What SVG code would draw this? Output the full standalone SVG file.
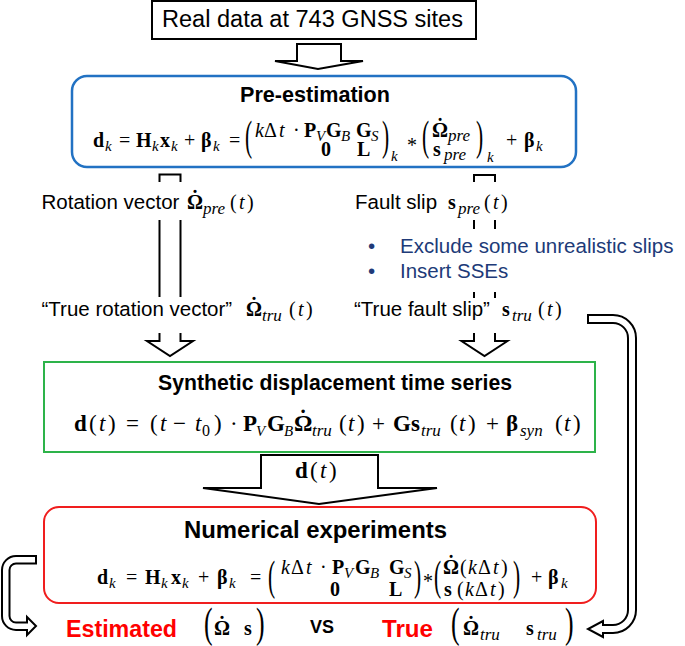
<svg xmlns="http://www.w3.org/2000/svg" width="685" height="646" viewBox="0 0 685 646">
<style>
.sans{font-family:"Liberation Sans","Noto Sans",Arial,sans-serif;fill:#000}
.lab{font-size:20.5px}
.ttl{font-weight:bold}
.m{font-family:"Liberation Serif","DejaVu Serif",serif;font-size:20px;fill:#000}
.g{font-size:23px}
.b{font-weight:bold}
.i{font-style:italic}
.s{font-style:italic;font-size:15px}
.s2{font-style:italic;font-size:17px}
.n{font-size:16px}
.big{font-family:"Liberation Serif","DejaVu Serif",serif;font-size:43px;fill:#000}
.dot{font-family:"Liberation Serif","DejaVu Serif",serif;font-weight:bold;text-anchor:middle;fill:#000}
.blk{fill:#fff;stroke:#000;stroke-width:2;stroke-linejoin:miter}
.ln{fill:none;stroke:#000;stroke-width:2}
.navy{fill:#203a78}
.red{fill:#ff0000}
</style>
<rect width="685" height="646" fill="#fff"/>

<g id="connectors">
  <polygon class="blk" points="297,44 341,44 341,61 363,61 318,69 275,61 297,61"/>
  <path class="ln" d="M159.5 182V174.5H180.5V182"/>
  <path class="ln" d="M159.5 220V297M180.5 220V297"/>
  <path class="blk" d="M159.5 333V341H147L170 356L193 341H180.5V333"/>
  <path class="ln" d="M474 182V175H495V182"/>
  <path class="ln" d="M474 220V229M495 220V229M474 292V298M495 292V298"/>
  <path class="blk" d="M474 333V341H461.5L484.5 356L507.5 341H495V333"/>
  <polygon class="blk" points="261,455 378,455 378,488 437,488 319,504 203,488 261,488"/>
  <path class="blk" stroke-width="1.8" d="M588 315H613A23 23 0 0 1 636 338V610A23 23 0 0 1 613 633H603V637L588 629L603 621V625H613A15 15 0 0 0 628 610V338A15 15 0 0 0 613 323H588Z"/>
  <path class="blk" stroke-width="1.8" d="M36 556H16A14 14 0 0 0 2 570V616A14 14 0 0 0 16 630H27V635L36 626L27 617V622.5H16A6.5 6.5 0 0 1 9.5 616V570A6.5 6.5 0 0 1 16 563.5H36Z"/>
</g>

<g id="n-data">
  <rect x="152" y="1" width="324" height="38" fill="#fff" stroke="#000" stroke-width="2"/>
  <text class="sans" x="162" y="27" font-size="23.5" textLength="301" lengthAdjust="spacingAndGlyphs">Real data at 743 GNSS sites</text>
</g>

<g id="n-pre">
  <rect x="72" y="76" width="504" height="91" rx="15" fill="#fff" stroke="#2272c3" stroke-width="2.5"/>
  <text class="sans ttl" x="240" y="102" font-size="21.5" textLength="150" lengthAdjust="spacingAndGlyphs">Pre-estimation</text>
  <text class="m"><tspan x="93" y="147" class="b">d</tspan><tspan x="105" y="151" class="s">k</tspan><tspan x="119" y="147">=</tspan><tspan x="136" y="147" class="b">H</tspan><tspan x="152" y="151" class="s">k</tspan><tspan x="160" y="147" class="b">x</tspan><tspan x="171" y="151" class="s">k</tspan><tspan x="184" y="147">+</tspan><tspan x="201" y="147" class="b">β</tspan><tspan x="213" y="151" class="s">k</tspan><tspan x="229" y="147">=</tspan></text>
  <text class="big" transform="translate(245 149.5) scale(0.5 1)">(</text>
  <text class="m"><tspan x="255" y="137" class="i">k</tspan><tspan x="264" y="137">Δ</tspan><tspan x="279" y="137" class="i">t</tspan><tspan x="293" y="137">·</tspan><tspan x="304" y="137" class="b">P</tspan><tspan x="316" y="141" class="s">V</tspan><tspan x="326" y="137" class="b">G</tspan><tspan x="341" y="141" class="s">B</tspan><tspan x="356" y="137" class="b">G</tspan><tspan x="371" y="141" class="s">S</tspan><tspan x="321" y="156" class="b">0</tspan><tspan x="357" y="156" class="b">L</tspan></text>
  <text class="big" transform="translate(382 149.5) scale(0.5 1)">)</text>
  <text class="m"><tspan x="391" y="161" class="s">k</tspan><tspan x="407" y="152">*</tspan></text>
  <text class="big" transform="translate(422 149.5) scale(0.5 1)">(</text>
  <text class="m"><tspan x="432" y="137" class="b">Ω</tspan><tspan x="448" y="141" class="s2">pre</tspan><tspan x="433" y="156" class="b">s</tspan><tspan x="444" y="160" class="s2">pre</tspan></text>
  <text class="dot" x="440" y="132.5" font-size="20">˙</text>
  <text class="big" transform="translate(476 149.5) scale(0.5 1)">)</text>
  <text class="m"><tspan x="487" y="162" class="s">k</tspan><tspan x="506" y="147">+</tspan><tspan x="524" y="147" class="b">β</tspan><tspan x="536" y="151" class="s">k</tspan></text>
</g>

<g id="n-rot-pre">
  <text class="sans lab" x="41.5" y="209">Rotation vector</text>
  <text class="m" font-size="21"><tspan x="187" y="209" class="b">Ω</tspan><tspan x="203" y="214" class="s2">pre</tspan><tspan x="230" y="209">(</tspan><tspan x="239" y="209" class="i">t</tspan><tspan x="247" y="209">)</tspan></text>
  <text class="dot" x="195" y="204.5" font-size="21">˙</text>
</g>

<g id="n-slip-pre">
  <text class="sans lab" x="355" y="209">Fault slip</text>
  <text class="m" font-size="21"><tspan x="448" y="209" class="b">s</tspan><tspan x="458" y="214" class="s2">pre</tspan><tspan x="484" y="209">(</tspan><tspan x="493" y="209" class="i">t</tspan><tspan x="501" y="209">)</tspan></text>
</g>

<g id="n-bullets">
  <text class="sans lab navy"><tspan x="368" y="253">•</tspan><tspan x="400" y="253">Exclude some unrealistic slips</tspan><tspan x="368" y="278">•</tspan><tspan x="400" y="278">Insert SSEs</tspan></text>
</g>

<g id="n-rot-tru">
  <text class="sans lab" x="41.5" y="316">“True rotation vector”</text>
  <text class="m" font-size="21"><tspan x="246" y="316" class="b">Ω</tspan><tspan x="262" y="321" class="s2">tru</tspan><tspan x="289" y="316">(</tspan><tspan x="298" y="316" class="i">t</tspan><tspan x="306" y="316">)</tspan></text>
  <text class="dot" x="254" y="311.5" font-size="21">˙</text>
</g>

<g id="n-slip-tru">
  <text class="sans lab" x="354" y="316">“True fault slip”</text>
  <text class="m" font-size="21"><tspan x="502" y="316" class="b">s</tspan><tspan x="512" y="321" class="s2">tru</tspan><tspan x="538" y="316">(</tspan><tspan x="547" y="316" class="i">t</tspan><tspan x="555" y="316">)</tspan></text>
</g>

<g id="n-synth">
  <rect x="44" y="362" width="551" height="90" fill="#fff" stroke="#2db34a" stroke-width="2"/>
  <text class="sans ttl" x="158" y="390" font-size="22.5" textLength="354" lengthAdjust="spacingAndGlyphs">Synthetic displacement time series</text>
  <text class="m g"><tspan x="74" y="431" class="b">d</tspan><tspan x="89" y="431">(</tspan><tspan x="99" y="431" class="i">t</tspan><tspan x="108" y="431">)</tspan><tspan x="126" y="431">=</tspan><tspan x="150" y="431">(</tspan><tspan x="160" y="431" class="i">t</tspan><tspan x="173" y="431">−</tspan><tspan x="195" y="431" class="i">t</tspan><tspan x="202" y="436" class="n">0</tspan><tspan x="214" y="431">)</tspan><tspan x="230" y="431">·</tspan><tspan x="243" y="431" class="b">P</tspan><tspan x="256" y="436" class="s">V</tspan><tspan x="267" y="431" class="b">G</tspan><tspan x="284" y="436" class="s">B</tspan><tspan x="294" y="431" class="b">Ω</tspan><tspan x="312" y="436" class="s2">tru</tspan><tspan x="339" y="431">(</tspan><tspan x="348" y="431" class="i">t</tspan><tspan x="357" y="431">)</tspan><tspan x="372" y="431">+</tspan><tspan x="393" y="431" class="b">G</tspan><tspan x="411" y="431" class="b">s</tspan><tspan x="421" y="436" class="s2">tru</tspan><tspan x="450" y="431">(</tspan><tspan x="459" y="431" class="i">t</tspan><tspan x="468" y="431">)</tspan><tspan x="486" y="431">+</tspan><tspan x="506" y="431" class="b">β</tspan><tspan x="520" y="436" class="s2">syn</tspan><tspan x="555" y="431">(</tspan><tspan x="564" y="431" class="i">t</tspan><tspan x="573" y="431">)</tspan></text>
  <text class="dot" x="303" y="426" font-size="23">˙</text>
</g>

<g id="n-dt">
  <text class="m g"><tspan x="295" y="478" class="b">d</tspan><tspan x="310" y="478">(</tspan><tspan x="320" y="478" class="i">t</tspan><tspan x="329" y="478">)</tspan></text>
</g>

<g id="n-exp">
  <rect x="44" y="507" width="552" height="96" rx="15" fill="#fff" stroke="#f01e1e" stroke-width="2"/>
  <text class="sans ttl" x="184" y="538" font-size="23.5" textLength="263" lengthAdjust="spacingAndGlyphs">Numerical experiments</text>
  <text class="m"><tspan x="97" y="584" class="b">d</tspan><tspan x="109" y="588" class="s">k</tspan><tspan x="126" y="584">=</tspan><tspan x="145" y="584" class="b">H</tspan><tspan x="161" y="588" class="s">k</tspan><tspan x="171" y="584" class="b">x</tspan><tspan x="182" y="588" class="s">k</tspan><tspan x="198" y="584">+</tspan><tspan x="217" y="584" class="b">β</tspan><tspan x="229" y="588" class="s">k</tspan><tspan x="250" y="584">=</tspan></text>
  <text class="big" font-size="40" transform="translate(268 590) scale(0.5 1)">(</text>
  <text class="m"><tspan x="281" y="574" class="i">k</tspan><tspan x="291" y="574">Δ</tspan><tspan x="306" y="574" class="i">t</tspan><tspan x="320" y="574">·</tspan><tspan x="332" y="574" class="b">P</tspan><tspan x="344" y="578" class="s">V</tspan><tspan x="355" y="574" class="b">G</tspan><tspan x="370" y="578" class="s">B</tspan><tspan x="389" y="574" class="b">G</tspan><tspan x="404" y="578" class="s">S</tspan><tspan x="330" y="596" class="b">0</tspan><tspan x="389" y="596" class="b">L</tspan></text>
  <text class="big" font-size="40" transform="translate(414 590) scale(0.5 1)">)</text>
  <text class="m"><tspan x="423" y="588">*</tspan></text>
  <text class="big" font-size="40" transform="translate(434 590) scale(0.5 1)">(</text>
  <text class="m"><tspan x="443" y="574" class="b">Ω</tspan><tspan x="460" y="574">(</tspan><tspan x="468" y="574" class="i">k</tspan><tspan x="478" y="574">Δ</tspan><tspan x="493" y="574" class="i">t</tspan><tspan x="501" y="574">)</tspan><tspan x="444" y="596" class="b">s</tspan><tspan x="457" y="596">(</tspan><tspan x="465" y="596" class="i">k</tspan><tspan x="475" y="596">Δ</tspan><tspan x="490" y="596" class="i">t</tspan><tspan x="498" y="596">)</tspan></text>
  <text class="dot" x="451" y="569.5" font-size="20">˙</text>
  <text class="big" font-size="40" transform="translate(513 590) scale(0.5 1)">)</text>
  <text class="m"><tspan x="531" y="584">+</tspan><tspan x="548" y="584" class="b">β</tspan><tspan x="561" y="588" class="s">k</tspan></text>
</g>

<g id="n-result">
  <text class="sans ttl red" x="66" y="637" font-size="23" textLength="111" lengthAdjust="spacingAndGlyphs">Estimated</text>
  <text class="big" font-size="32" transform="translate(204 637) scale(0.6 1)">(</text>
  <text class="m" font-size="21"><tspan x="214" y="635" class="b">Ω</tspan><tspan x="244" y="635" class="b">s</tspan></text>
  <text class="dot" x="222" y="630.5" font-size="21">˙</text>
  <text class="big" font-size="32" transform="translate(256 637) scale(0.6 1)">)</text>
  <text class="sans ttl" x="310" y="633" font-size="18">VS</text>
  <text class="sans ttl red" x="382" y="637" font-size="23" textLength="51" lengthAdjust="spacingAndGlyphs">True</text>
  <text class="big" font-size="32" transform="translate(451 637) scale(0.6 1)">(</text>
  <text class="m" font-size="21"><tspan x="463" y="635" class="b">Ω</tspan><tspan x="480" y="640" class="s2">tru</tspan><tspan x="526" y="635" class="b">s</tspan><tspan x="537" y="640" class="s2">tru</tspan></text>
  <text class="dot" x="471" y="630.5" font-size="21">˙</text>
  <text class="big" font-size="32" transform="translate(565 637) scale(0.6 1)">)</text>
</g>
</svg>
